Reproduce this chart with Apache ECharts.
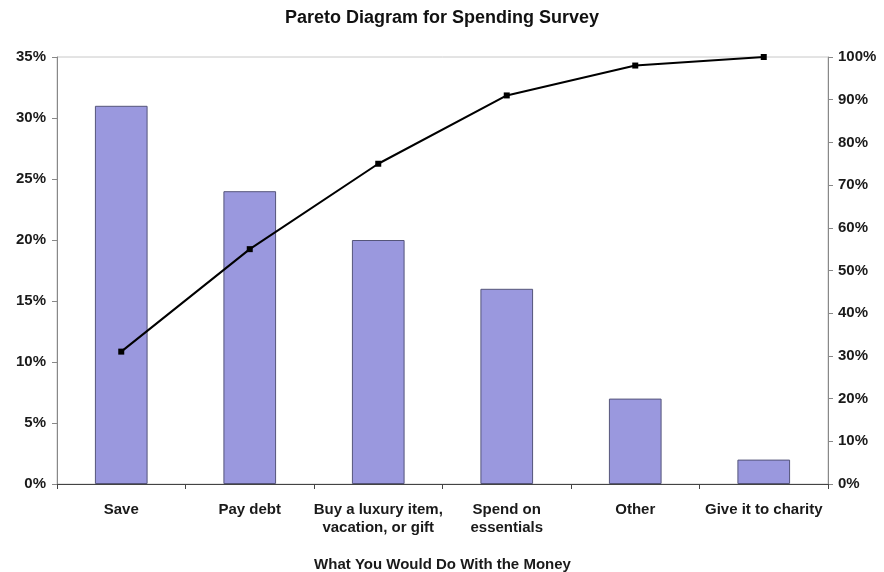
<!DOCTYPE html>
<html>
<head>
<meta charset="utf-8">
<script src="https://cdn.jsdelivr.net/npm/echarts@6/dist/echarts.min.js"></script>
<style>
  html, body { margin: 0; padding: 0; background: #fff; }
  #chart { width: 884px; height: 572px; }
</style>
</head>
<body>
<div id="chart"></div>
<script>
// Survey responses: share of respondents per answer (%), sorted descending
const categories = ['Save', 'Pay debt', 'Buy a luxury item,\nvacation, or gift', 'Spend on\nessentials', 'Other', 'Give it to charity'];
const percentShare = [31, 24, 20, 16, 7, 2];
// Running cumulative share (%)
const cumulativeShare = [31, 55, 75, 91, 98, 100];
const leftTicks = [0, 5, 10, 15, 20, 25, 30, 35];
const rightTicks = [0, 10, 20, 30, 40, 50, 60, 70, 80, 90, 100];

const font = '"Liberation Sans", Arial, sans-serif';
const labelStyle = { fontFamily: font, fontSize: 15, fontWeight: 'bold', color: '#1a1a1a' };
const chart = echarts.init(document.getElementById('chart'), null, { renderer: 'canvas' });

chart.setOption({
  backgroundColor: '#ffffff',
  animation: false,
  title: {
    text: 'Pareto Diagram for Spending Survey',
    left: 'center',
    top: 4,
    textStyle: { fontFamily: font, fontSize: 18, fontWeight: 'bold', color: '#111' }
  },
  grid: {
    left: 57, right: 56, top: 57, bottom: 88,
    outerBoundsMode: 'none',
    containLabel: false,
    show: true, borderColor: '#c8c8c8', borderWidth: 1, backgroundColor: 'transparent'
  },
  xAxis: {
    type: 'category',
    data: categories,
    name: 'What You Would Do With the Money',
    nameLocation: 'middle',
    nameGap: 73,
    nameTextStyle: Object.assign({}, labelStyle),
    axisLine: { lineStyle: { color: '#444', width: 1 } },
    axisTick: { show: true, alignWithLabel: false, length: 5, lineStyle: { color: '#444' } },
    axisLabel: Object.assign({ margin: 17, lineHeight: 18, interval: 0 }, labelStyle)
  },
  yAxis: [
    {
      type: 'value',
      min: leftTicks[0], max: leftTicks[leftTicks.length - 1], interval: 5,
      axisLine: { show: true, lineStyle: { color: '#888' } },
      axisTick: { show: true, length: 5, lineStyle: { color: '#888' } },
      splitLine: { show: false },
      axisLabel: Object.assign({ formatter: '{value}%', margin: 11 }, labelStyle)
    },
    {
      type: 'value',
      min: rightTicks[0], max: rightTicks[rightTicks.length - 1], interval: 10,
      position: 'right',
      axisLine: { show: true, lineStyle: { color: '#888' } },
      axisTick: { show: true, length: 5, lineStyle: { color: '#888' } },
      splitLine: { show: false },
      axisLabel: Object.assign({ formatter: '{value}%', margin: 10 }, labelStyle)
    }
  ],
  series: [
    {
      name: 'Percent',
      type: 'bar',
      yAxisIndex: 0,
      data: percentShare,
      barWidth: '41%',
      itemStyle: { color: '#9a98de', borderColor: '#55557a', borderWidth: 1 }
    },
    {
      name: 'Cumulative',
      type: 'line',
      yAxisIndex: 1,
      data: cumulativeShare,
      symbol: 'rect',
      symbolSize: 6,
      lineStyle: { color: '#000', width: 2 },
      itemStyle: { color: '#000' }
    }
  ]
});
</script>
</body>
</html>
